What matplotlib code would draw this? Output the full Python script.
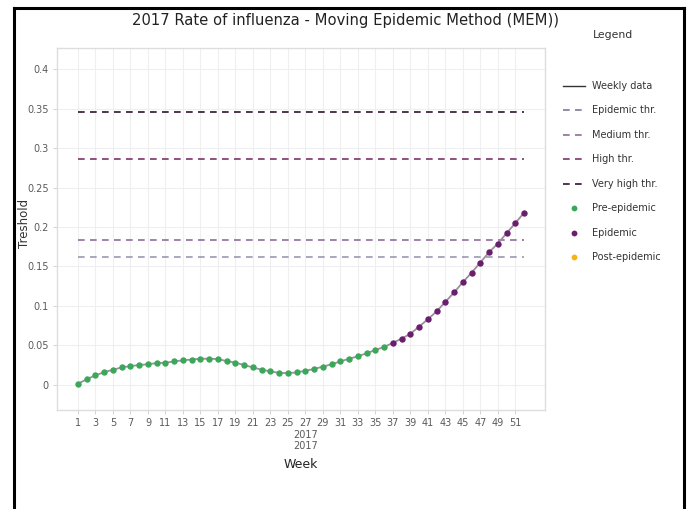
import numpy as np
import matplotlib.pyplot as plt
from matplotlib.lines import Line2D

# Weekly influenza rate, 2017
weeks = list(range(1, 53))
rate = [0.0013, 0.007, 0.012, 0.016, 0.019, 0.022, 0.0237, 0.025, 0.026, 0.0275,
        0.028, 0.0296, 0.031, 0.032, 0.033, 0.033, 0.0326, 0.030, 0.028, 0.025,
        0.022, 0.019, 0.017, 0.015, 0.0148, 0.0156, 0.0178, 0.020, 0.023, 0.026,
        0.0296, 0.033, 0.036, 0.040, 0.044, 0.048, 0.053, 0.0585, 0.0645, 0.0737,
        0.083, 0.093, 0.105, 0.117, 0.130, 0.142, 0.155, 0.168, 0.179, 0.192,
        0.205, 0.218]
phase = ['Pre-epidemic'] * 36 + ['Epidemic'] * 16

# MEM thresholds
threshold_names = ['Epidemic thr.', 'Medium thr.', 'High thr.', 'Very high thr.']
threshold_values = [0.162, 0.184, 0.286, 0.346]
threshold_colors = ['#9a98b4', '#8c6c9c', '#7a3468', '#2e1430']

phase_names = ['Pre-epidemic', 'Epidemic', 'Post-epidemic']
phase_colors = ['#3aa858', '#6a1f6e', '#f5b21a']

tick_weeks = list(range(1, 52, 2))
tick_labels = [str(w) if w != 27 else '27\n2017\n2017' for w in tick_weeks]
y_ticks = [0, 0.05, 0.1, 0.15, 0.2, 0.25, 0.3, 0.35, 0.4]
y_labels = ['0', '0.05', '0.1', '0.15', '0.2', '0.25', '0.3', '0.35', '0.4']

W, H = 691, 509
fig = plt.figure(figsize=(W / 100, H / 100), dpi=100)
ax = fig.add_axes([57 / W, 1 - 410 / H, (545 - 57) / W, (410 - 48) / H])

# threshold lines
for name, val, col in zip(threshold_names, threshold_values, threshold_colors):
    ax.plot([weeks[0], weeks[-1]], [val, val], color=col, lw=1.2,
            dashes=(4, 3.2), zorder=2)

# weekly line and points
ax.plot(weeks, rate, color='#a08ca0', lw=1.3, zorder=3)
rate_arr = np.array(rate)
week_arr = np.array(weeks)
phase_arr = np.array(phase)
for name, col in zip(phase_names, phase_colors):
    m = phase_arr == name
    if m.any():
        ax.plot(week_arr[m], rate_arr[m], 'o', color=col, ms=4.6, mec=col,
                mew=0, zorder=4)

ax.set_xlim(-1.4, 54.4)
ax.set_ylim(-0.032, 0.427)
ax.set_xticks(tick_weeks)
ax.set_xticklabels(tick_labels, fontsize=7, color='#5a5a5a', linespacing=1.15)
ax.set_yticks(y_ticks)
ax.set_yticklabels(y_labels, fontsize=7, color='#5a5a5a')
ax.tick_params(length=3, width=0.6, color='#cccccc', pad=3)

ax.grid(True, color='#efefef', lw=0.8)
ax.set_axisbelow(True)
for s in ax.spines.values():
    s.set_color('#dddddd')
    s.set_linewidth(1.0)

ax.set_xlabel('Week', fontsize=9, color='#222222', labelpad=5)
ax.set_ylabel('Treshold', fontsize=8.5, color='#333333')
ax.yaxis.set_label_coords((31 - 57) / 488, 0.514)

fig.text(346 / W, 1 - 20 / H, '2017 Rate of influenza - Moving Epidemic Method (MEM))',
         ha='center', va='center', fontsize=10.6, color='#222222')
fig.text(613 / W, 1 - 35 / H, 'Legend', ha='center', va='center', fontsize=7.8,
         color='#333333')

# legend
handles = [Line2D([], [], color='#333333', lw=1.0)]
for name, col in zip(threshold_names, threshold_colors):
    handles.append(Line2D([], [], color=col if name != 'Epidemic thr.' else '#7a7a9a',
                          lw=1.2, dashes=(4, 3.2)))
for name, col in zip(phase_names, phase_colors):
    handles.append(Line2D([], [], ls='', marker='o', color=col, ms=4.2, mew=0))
labels = ['Weekly data'] + threshold_names + phase_names
fig.legend(handles, labels, loc='upper left', bbox_to_anchor=(563 / W, 1 - 81 / H),
           frameon=False, fontsize=7, labelcolor='#333333', handlelength=2.3,
           handletextpad=0.7, labelspacing=1.49, borderpad=0, borderaxespad=0)

# outer black frame of the screenshot
frame_kw = dict(color='black', lw=2.2, transform=fig.transFigure)
fig.add_artist(Line2D([14 / W, 14 / W], [0, 1 - 8 / H], **frame_kw))
fig.add_artist(Line2D([684 / W, 684 / W], [0, 1 - 8 / H], **frame_kw))
fig.add_artist(Line2D([14 / W, 684 / W], [1 - 8 / H, 1 - 8 / H], **frame_kw))

fig.savefig('out.png', dpi=100)
